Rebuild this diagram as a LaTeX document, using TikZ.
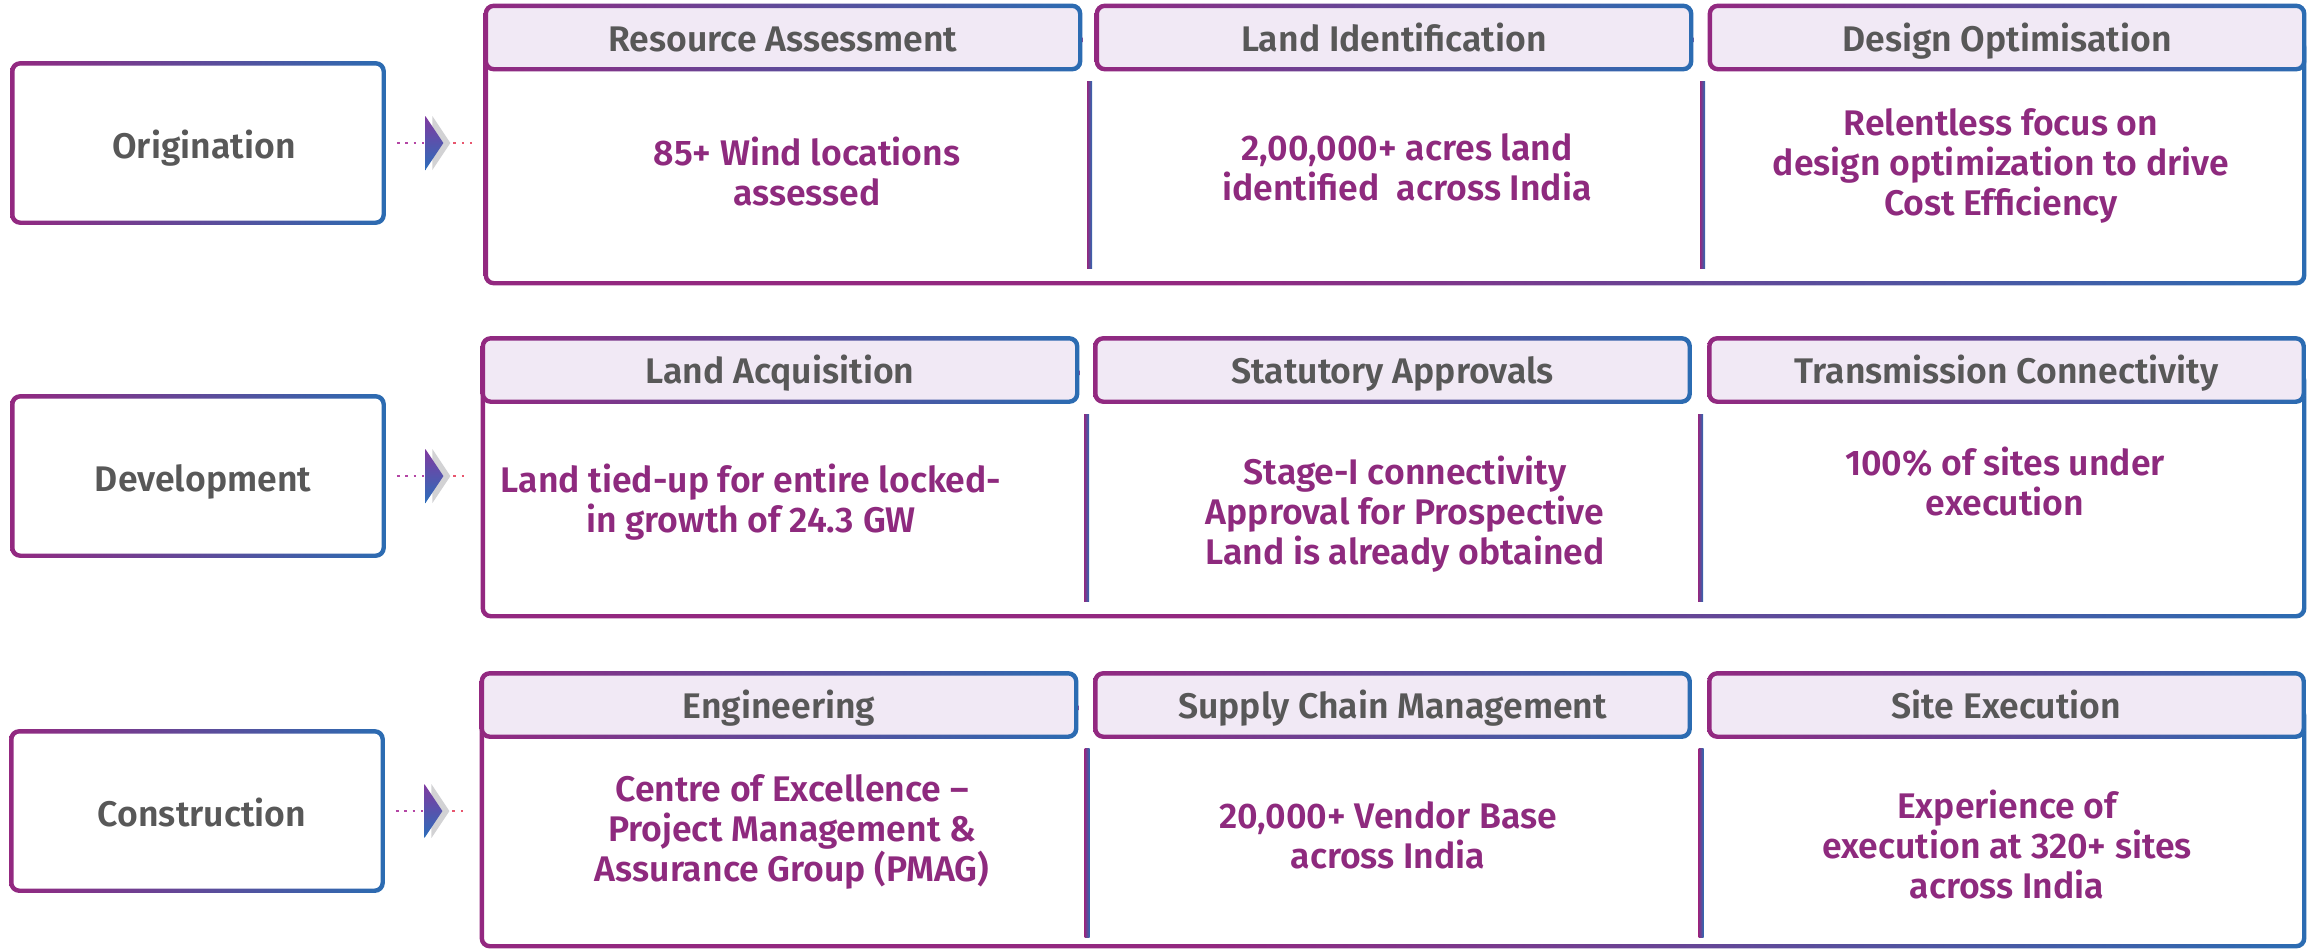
\documentclass[tikz,border=0pt]{standalone}
\usepackage{fontspec}
\setmainfont{Fira Sans}[UprightFont=* SemiBold]
\definecolor{purp}{RGB}{147,40,128}
\definecolor{blu}{RGB}{43,108,178}
\definecolor{txtp}{RGB}{142,42,126}
\definecolor{txtg}{RGB}{88,88,88}
\definecolor{hfill}{RGB}{241,233,245}
\definecolor{chtop}{RGB}{128,58,160}
\definecolor{chbot}{RGB}{44,110,186}
\definecolor{chgray}{RGB}{210,210,212}
\definecolor{cdotp}{RGB}{180,70,165}
\definecolor{cdotr}{RGB}{232,86,110}
\pgfdeclarehorizontalshading{gshade}{100bp}{color(0bp)=(purp); color(25bp)=(purp); color(75bp)=(blu); color(100bp)=(blu)}
\pgfdeclarehorizontalshading{pshade}{100bp}{color(0bp)=(purp); color(25bp)=(purp); color(45bp)=(purp); color(75bp)=(blu); color(100bp)=(blu)}
\newcommand\tfont{\fontsize{17.8}{20}\selectfont}
\newcommand\gring[5]{\shade[shading=#5, even odd rule, rounded corners=#3] (#1) rectangle (#2) [rounded corners=#4] ([shift={(2.2pt,2.2pt)}]#1) rectangle ([shift={(-2.2pt,-2.2pt)}]#2);}
\newcommand\chev[1]{%
  \fill[chgray] ([xshift=3.5pt]#1) ++(0,-27) -- ++(18,27) -- ++(-18,27) -- cycle;
  \shade[top color=chtop,bottom color=chbot] (#1) ++(0,-27) -- ++(18,27) -- ++(-18,27) -- cycle;}
\begin{document}
\begin{tikzpicture}[x=0.5pt,y=-0.5pt,
  lbox/.style={minimum width=187.5pt,minimum height=81.5pt,inner sep=0pt,text=txtg,font=\tfont,text height=15pt,text depth=0pt},
  hdr/.style={fill=hfill,rounded corners=5pt,minimum width=299pt,minimum height=33.5pt,inner sep=0pt,text=txtg,font=\tfont,text height=13.8pt,text depth=0pt},
  body/.style={text=txtp,align=center,font=\tfont,inner sep=0pt},
  dotl/.style={draw=cdotp,line width=1.3pt,dash pattern=on 1.3pt off 2.9pt},
  dotr/.style={draw=cdotr,line width=1.3pt,dash pattern=on 1.3pt off 2.9pt},
  divd/.style={left color=purp,right color=blu},
]
\useasboundingbox (0,0) rectangle (2310,950);

% ---------------- Row 1 ----------------
\node[lbox] (lb1) at (198,143) {\hspace*{6pt}Origination};
\gring{lb1.south west}{lb1.north east}{5pt}{3pt}{gshade}
\node[minimum width=911pt,minimum height=140.5pt,inner sep=0pt] (pan1) at (1395,144.5) {};
\coordinate (p1a) at (pan1.south west);
\coordinate (p1b) at ([yshift=-17pt]pan1.north east);
\gring{p1a}{p1b}{5pt}{3pt}{pshade}
\fill[white] (1082.5,22) rectangle (1094.5,58);
\fill[white] (1693.5,22) rectangle (1707.5,58);
\node[hdr] (h11) at (783,37.5) {Resource Assessment};
\gring{h11.south west}{h11.north east}{5pt}{3pt}{gshade}
\node[hdr] (h12) at (1394,37.5) {Land Identification};
\gring{h12.south west}{h12.north east}{5pt}{3pt}{gshade}
\node[hdr] (h13) at (2007,37.5) {Design Optimisation};
\gring{h13.south west}{h13.north east}{5pt}{3pt}{gshade}
\shade[divd] (1087,81) rectangle (1092,268);
\shade[divd] (1700,81) rectangle (1705,268);
\node[body] (b11) at (807,171) {85+ Wind locations\\assessed};
\node[body] (b12) at (1407,167) {2,00,000+ acres land\\identified\ \ across India};
\node[body] (b13) at (2001,166) {Relentless focus on\\design optimization to drive\\Cost Efficiency};
\path (lb1.east) ++(19.75pt,0) coordinate (ch1);
\draw[dotl] ([xshift=5.5pt]lb1.east) -- ([xshift=-0.5pt]ch1);
\chev{ch1}
\draw[dotr] ([xshift=14pt]ch1) -- ([xshift=-6pt]ch1 -| pan1.west);

% ---------------- Row 2 ----------------
\node[lbox] (lb2) at (198,476) {\hspace*{5pt}Development};
\gring{lb2.south west}{lb2.north east}{5pt}{3pt}{gshade}
\node[minimum width=912.5pt,minimum height=140.5pt,inner sep=0pt] (pan2) at (1393.5,477.5) {};
\coordinate (p2a) at (pan2.south west);
\coordinate (p2b) at ([yshift=-17pt]pan2.north east);
\gring{p2a}{p2b}{5pt}{3pt}{pshade}
\fill[white] (1079.5,355) rectangle (1093,391);
\fill[white] (1692,355) rectangle (1707,391);
\node[hdr] (h21) at (780,370) {Land Acquisition};
\gring{h21.south west}{h21.north east}{5pt}{3pt}{gshade}
\node[hdr] (h22) at (1392.5,370) {Statutory Approvals};
\gring{h22.south west}{h22.north east}{5pt}{3pt}{gshade}
\node[hdr] (h23) at (2006.5,370) {Transmission Connectivity};
\gring{h23.south west}{h23.north east}{5pt}{3pt}{gshade}
\shade[divd] (1084,414) rectangle (1089,601);
\shade[divd] (1698,414) rectangle (1703,601);
\node[body] (b21) at (751,502) {Land tied-up for entire locked-\\in growth of 24.3 GW};
\node[body] (b22) at (1405,514) {Stage-I connectivity\\Approval for Prospective\\Land is already obtained};
\node[body] (b23) at (2005,481) {100\% of sites under\\execution};
\path (lb2.east) ++(19.75pt,0) coordinate (ch2);
\draw[dotl] ([xshift=5.5pt]lb2.east) -- ([xshift=-0.5pt]ch2);
\chev{ch2}
\draw[dotr] ([xshift=14pt]ch2) -- ([xshift=-6pt]ch2 -| pan2.west);

% ---------------- Row 3 ----------------
\node[lbox] (lb3) at (197,811) {\hspace*{5pt}Construction};
\gring{lb3.south west}{lb3.north east}{5pt}{3pt}{gshade}
\node[minimum width=913pt,minimum height=138pt,inner sep=0pt] (pan3) at (1393,810) {};
\coordinate (p3a) at (pan3.south west);
\coordinate (p3b) at ([yshift=-17pt]pan3.north east);
\gring{p3a}{p3b}{5pt}{3pt}{pshade}
\fill[white] (1078.5,690) rectangle (1093,726);
\fill[white] (1692,690) rectangle (1707,726);
\node[hdr] (h31) at (779,705) {Engineering};
\gring{h31.south west}{h31.north east}{5pt}{3pt}{gshade}
\node[hdr] (h32) at (1392.5,705) {Supply Chain Management};
\gring{h32.south west}{h32.north east}{5pt}{3pt}{gshade}
\node[hdr] (h33) at (2006.5,705) {Site Execution};
\gring{h33.south west}{h33.north east}{5pt}{3pt}{gshade}
\shade[divd] (1084.5,748) rectangle (1089.5,937);
\shade[divd] (1698.5,748) rectangle (1703.5,937);
\node[body] (b31) at (792,832) {Centre of Excellence –\\Project Management \&\\Assurance Group (PMAG)};
\node[body] (b32) at (1388,835) {20,000+ Vendor Base\\across India};
\node[body] (b33) at (2007,844) {Experience of\\execution at 320+ sites\\across India};
\path (lb3.east) ++(19.75pt,0) coordinate (ch3);
\draw[dotl] ([xshift=5.5pt]lb3.east) -- ([xshift=-0.5pt]ch3);
\chev{ch3}
\draw[dotr] ([xshift=14pt]ch3) -- ([xshift=-6pt]ch3 -| pan3.west);
\end{tikzpicture}
\end{document}
